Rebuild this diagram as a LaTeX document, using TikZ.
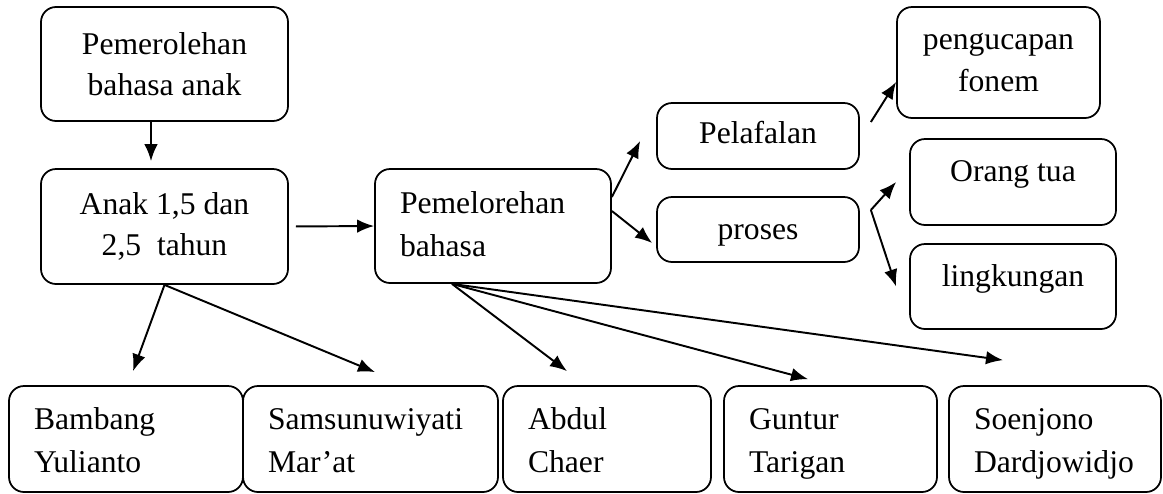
\documentclass[tikz,border=0pt]{standalone}
\usepackage{fontspec}
\setmainfont{Liberation Serif}
\usetikzlibrary{arrows.meta}
\begin{document}
\begin{tikzpicture}[main box/.style={shape=rectangle, rounded corners=0.3cm, draw, line width=1pt, inner sep=0pt, align=center, font=\fontsize{18}{23.5}\selectfont}, name box/.style={shape=rectangle, rounded corners=0.3cm, draw, line width=1pt, inner xsep=0.5cm, inner ysep=0pt, align=left, text width=#1, text height=0.5cm, text depth=0.9cm, minimum height=2.12cm, font=\fontsize{18}{24.5}\selectfont}, top text/.style={text depth=0.42cm}, link/.style={-{Latex[length=0.34cm, width=0.27cm]}, line width=1.1pt}]
\useasboundingbox (0,0) rectangle (23.26,-9.86);
\node[main box, minimum width=4.94cm, minimum height=2.28cm] (P) at (3.29,-1.28) {Pemerolehan\\bahasa anak};
\node[main box, minimum width=4.94cm, minimum height=2.3cm] (A) at (3.29,-4.53) {Anak 1,5 dan\\2,5 \ tahun};
\node[name box=3.72cm, text depth=1.02cm, minimum height=2.28cm] (B) at (9.86,-4.52) {Pemelorehan\\bahasa};
\node[main box, text height=0.42cm, text depth=0.14cm, minimum width=4.04cm, minimum height=1.32cm] (L) at (15.16,-2.72) {Pelafalan};
\node[main box, text height=0.52cm, text depth=0.14cm, minimum width=4.04cm, minimum height=1.3cm] (R) at (15.16,-4.59) {proses};
\node[main box, minimum width=4.06cm, minimum height=2.22cm] (F) at (19.97,-1.25) {pengucapan\\fonem};
\node[main box, top text, minimum width=4.12cm, minimum height=1.72cm] (O) at (20.26,-3.64) {Orang tua};
\node[main box, top text, minimum width=4.12cm, minimum height=1.7cm] (K) at (20.26,-5.73) {lingkungan};
\node[name box=3.68cm] (Y) at (2.52,-8.78) {Bambang\\Yulianto};
\node[name box=4.1cm] (M) at (7.41,-8.78) {Samsunuwiyati\\Mar'at};
\node[name box=3.16cm] (C) at (12.14,-8.78) {Abdul\\Chaer};
\node[name box=3.26cm] (T) at (16.61,-8.78) {Guntur\\Tarigan};
\node[name box=3.24cm] (D) at (21.1,-8.78) {Soenjono\\Dardjowidjo};
\draw [link] ([xshift=-0.27cm]P.south) -- ([xshift=-0.27cm, yshift=0.14cm]A.north);
\draw [link, shorten <=0.14cm] (A.east) -- (B.west);
\draw [link] ([yshift=0.58cm]B.east) -- ([xshift=-0.32cm, yshift=-0.1cm]L.west);
\draw [link] ([yshift=0.3cm]B.east) -- ([xshift=-0.08cm, yshift=-0.27cm]R.west);
\draw [link] ([xshift=0.22cm, yshift=0.28cm]L.east) -- ([yshift=-0.39cm]F.west);
\coordinate (r) at ([xshift=0.22cm, yshift=0.39cm]R.east);
\draw [link] (r) -- ([xshift=-0.26cm]O.west);
\draw [link] (r) -- ([xshift=-0.26cm]K.west);
\draw [link] (A.south) -- ([xshift=0.14cm, yshift=0.28cm]Y.north);
\draw [link] (A.south) -- ([xshift=0.09cm, yshift=0.26cm]M.north);
\coordinate (b) at ([xshift=-0.82cm]B.south);
\draw [link] (b) -- ([xshift=-0.8cm, yshift=0.28cm]C.north);
\draw [link] (b) -- ([xshift=-0.45cm, yshift=0.12cm]T.north);
\draw [link] (b) -- ([xshift=-1.04cm, yshift=0.5cm]D.north);
\end{tikzpicture}
\end{document}
